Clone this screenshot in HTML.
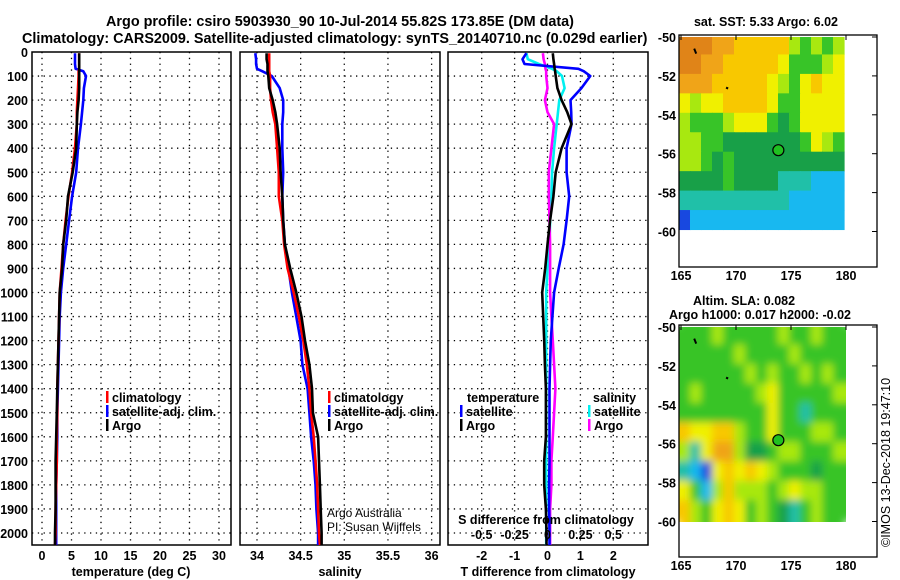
<!DOCTYPE html>
<html><head><meta charset="utf-8">
<style>
html,body{margin:0;padding:0;background:#fff;}
svg{display:block;font-family:"Liberation Sans",Arial,sans-serif;}
.t{font-size:12.5px;font-weight:bold;fill:#000;}
.ti{font-size:14.4px;font-weight:bold;fill:#000;}
</style></head><body>
<svg id="c" width="900" height="580" viewBox="0 0 900 580" xmlns="http://www.w3.org/2000/svg">
<defs>
<filter id="blur" x="-5%" y="-5%" width="110%" height="110%"><feGaussianBlur stdDeviation="4"/></filter>
<clipPath id="clipsla"><rect x="679" y="327" width="167" height="195"/></clipPath>
<clipPath id="clipsst"><rect x="679" y="37" width="167" height="195"/></clipPath>
</defs>
<text class="ti" x="340" y="26" text-anchor="middle">Argo profile: csiro 5903930_90 10-Jul-2014 55.82S 173.85E (DM data)</text>
<text class="ti" x="22" y="43">Climatology: CARS2009. Satellite-adjusted climatology: synTS_20140710.nc (0.029d earlier)</text>
<g id="g"></g>
</svg>
<script>
// ---- data ----
const depths = [5,30,50,70,80,100,150,200,250,300,400,500,600,700,800,900,1000,1100,1200,1300,1400,1500,1600,1700,1800,1900,2000,2050];
const tempClim = [6.3,6.3,6.3,6.3,6.2,6.2,6.1,6.0,5.9,5.9,5.6,5.1,4.5,4.0,3.6,3.3,3.0,2.9,2.8,2.7,2.6,2.6,2.5,2.5,2.4,2.3,2.3,2.2];
const tempSat = [5.6,5.6,5.6,5.7,7.0,7.45,7.1,7.0,6.8,6.6,6.1,5.8,5.1,4.6,4.1,3.6,3.2,3.0,2.9,2.8,2.7,2.6,2.6,2.5,2.4,2.4,2.4,2.4];
const tempArgo = [6.3,6.3,6.3,6.3,6.3,6.3,6.3,6.2,6.0,5.9,5.8,5.2,4.4,4.1,3.6,3.4,3.0,2.9,2.8,2.7,2.6,2.5,2.4,2.3,2.3,2.3,2.2,2.2];
const salClim = [34.14,34.14,34.14,34.14,34.14,34.15,34.15,34.16,34.18,34.21,34.23,34.25,34.25,34.29,34.31,34.35,34.42,34.48,34.53,34.57,34.60,34.62,34.65,34.67,34.69,34.70,34.71,34.72];
const salSat = [33.98,33.99,33.99,34.00,34.06,34.17,34.26,34.30,34.30,34.29,34.29,34.30,34.29,34.30,34.32,34.36,34.40,34.45,34.50,34.52,34.58,34.60,34.62,34.65,34.67,34.68,34.70,34.70];
const salArgo = [34.11,34.11,34.12,34.12,34.12,34.13,34.14,34.18,34.21,34.23,34.26,34.27,34.29,34.30,34.32,34.38,34.45,34.51,34.55,34.60,34.63,34.64,34.70,34.71,34.72,34.73,34.74,34.74];
const dTsat = [-0.64,-0.76,-0.7,0.94,1.1,1.3,1.03,0.7,0.72,0.73,0.58,0.58,0.66,0.58,0.49,0.34,0.2,0.15,0.1,0.08,0.06,0.06,0.06,0.06,0.05,0.05,0.06,0.06];
const dTargo = [0.16,0.18,0.2,0.22,0.23,0.25,0.3,0.43,0.6,0.73,0.43,0.25,0.18,0.08,0.0,-0.07,-0.16,-0.13,-0.1,-0.08,-0.05,-0.05,-0.05,-0.1,-0.1,-0.05,-0.03,-0.03];
const dSsat = [-0.16,-0.15,-0.065,0.035,0.07,0.11,0.13,0.09,0.08,0.07,0.05,0.035,0.03,0.02,0.015,0.0,-0.01,-0.01,-0.01,-0.01,-0.01,-0.01,-0.01,-0.01,-0.01,-0.01,-0.01,-0.01];
const dSargo = [-0.035,-0.03,-0.02,-0.015,-0.01,-0.01,0.0,-0.02,0.0,0.05,0.03,0.01,0.01,0.015,0.02,0.02,0.02,0.03,0.04,0.05,0.06,0.05,0.04,0.03,0.03,0.02,0.02,0.02];
const depthTicks = [0,100,200,300,400,500,600,700,800,900,1000,1100,1200,1300,1400,1500,1600,1700,1800,1900,2000];
const tTicks = [0,5,10,15,20,25,30];
const sTicks = [34,34.5,35,35.5,36];
const sTickLabels = ["34","34.5","35","35.5","36"];
const dtTicks = [-2,-1,0,1,2];
const dsTicks = [-0.5,-0.25,0,0.25,0.5];
const dsTickLabels = ["-0.5","-0.25","0","0.25","0.5"];
const lonTicks = [165,170,175,180];
const latTicks = [-50,-52,-54,-56,-58,-60];
const argoLon = 173.85, argoLat = -55.82;
// map grids: rows lat -50..-59 (1 deg), cols lon 165..179 (1 deg); colour index 0(blue)..9(orange)
const sstGrid = [
[9,9,9,8,8,7,7,7,7,7,5,4,5,4,5],
[9,9,8,8,7,7,7,7,7,6,4,4,4,5,6],
[8,8,8,7,7,7,7,7,6,5,4,6,7,6,6],
[6,5,6,6,7,7,7,7,6,4,4,6,6,6,6],
[5,4,4,4,5,6,6,6,4,3,4,6,6,6,6],
[5,5,4,4,3,3,3,3,3,3,3,4,6,5,4],
[5,5,4,3,4,3,3,3,3,3,3,3,3,3,3],
[3,3,3,3,4,3,3,3,3,2,2,2,1,1,1],
[2,2,2,2,2,2,2,2,2,2,1,1,1,1,1],
[0,1,1,1,1,1,1,1,1,1,1,1,1,1,1]];
const slaGrid = [
[4,4,4,5,4,4,4,4,4,5,4,4,5,4,4],
[4,4,4,4,4,5,4,4,4,4,5,4,4,4,4],
[4,4,4,4,4,4,5,4,5,4,4,5,4,5,4],
[4,5,4,4,4,4,4,5,6,4,4,4,4,4,5],
[4,4,4,4,4,4,4,4,6,4,4,2,4,4,4],
[7,6,6,7,7,5,4,4,6,4,4,4,5,5,4],
[5,2,6,8,8,5,3,3,4,5,5,4,4,4,5],
[2,1,0,6,7,6,7,6,5,4,4,4,3,4,4],
[6,4,1,5,7,5,5,5,4,5,6,5,5,4,4],
[7,5,4,6,7,6,4,5,4,3,2,4,5,4,4]];
const cmap = ["#1848e0","#18b8f0","#20c0a8","#18a048","#38c428","#a8e810","#f0f000","#f8c800","#f0a418","#e08418"];

// ---- helpers ----
const NS="http://www.w3.org/2000/svg";
const G=document.getElementById('g');
function mk(tag,attrs,parent){const e=document.createElementNS(NS,tag);for(const k in attrs)e.setAttribute(k,attrs[k]);(parent||G).appendChild(e);return e;}
function txt(x,y,s,anchor,cls,name){const e=mk('text',{x:x,y:y,'text-anchor':anchor||'start','class':cls||'t'});e.textContent=s;


return e;}
const yD = d => 52 + 0.2405*d;
const PTOP=52, PBOT=545;
const xT = v => 42 + 5.9*v;
const xS = v => 257 + 87.3*(v-34);
const xDT = v => 547.5 + 32.9*v;
const xDS = v => 547.5 + 131.6*v;

function panel(x0,x1,ticks,labels,xf,name){
  const grid=mk('g',{});
  
  
  depthTicks.forEach(d=>{ if(d>0) mk('line',{x1:x0,x2:x1,y1:yD(d),y2:yD(d),stroke:'#000','stroke-width':1.3,'stroke-dasharray':'1.3 4.5'},grid);});
  ticks.forEach((t,i)=>{mk('line',{x1:xf(t),x2:xf(t),y1:PTOP,y2:PBOT,stroke:'#000','stroke-width':1.3,'stroke-dasharray':'1.3 4.5'},grid);
    txt(xf(t),560,labels[i],'middle','t',name+'-x-tick');});
  const r=mk('rect',{x:x0,y:PTOP,width:x1-x0,height:PBOT-PTOP,fill:'none',stroke:'#000','stroke-width':1.5});
  
  
}
function series(vals,xf,color,name){
  let d='';
  vals.forEach((v,i)=>{const X=xf(v),Y=yD(depths[i]);d+=(i?'L':'M')+X.toFixed(1)+' '+Y.toFixed(1);});
  const p=mk('path',{d:d,fill:'none',stroke:color,'stroke-width':2.6,'stroke-linejoin':'round'});
  
  
}
function legend(x,y,color,label,name){
  const m=mk('rect',{x:x,y:y-11,width:2.5,height:12,fill:color});
  
  
  txt(x+6,y,label,'start','t',name);
}

// depth labels
depthTicks.forEach(d=>txt(28,yD(d)+5,String(d),'end','t','depth-tick-label'));

// panel 1 temperature
panel(32,231,tTicks,tTicks.map(String),xT,'temperature-panel');
series(tempSat,xT,'#0000ff','temp-satellite-line');
series(tempClim,xT,'#ff0000','temp-climatology-line');
series(tempArgo,xT,'#000','temp-argo-line');
txt(131,576,'temperature (deg C)','middle','t','temperature-axis-title');
legend(106,402,'#ff0000','climatology','legend-climatology');
legend(106,416,'#0000ff','satellite-adj. clim.','legend-satellite-adj');
legend(106,430,'#000','Argo','legend-argo');

// panel 2 salinity
panel(240,440,sTicks,sTickLabels,xS,'salinity-panel');
series(salSat,xS,'#0000ff','sal-satellite-line');
series(salClim,xS,'#ff0000','sal-climatology-line');
series(salArgo,xS,'#000','sal-argo-line');
txt(340,576,'salinity','middle','t','salinity-axis-title');
legend(328,402,'#ff0000','climatology','legend2-climatology');
legend(328,416,'#0000ff','satellite-adj. clim.','legend2-satellite-adj');
legend(328,430,'#000','Argo','legend2-argo');
let a=txt(327,517,'Argo Australia','start','t','credit-argo-australia'); a.setAttribute('style','font-weight:normal;font-size:12px');
a=txt(327,531,'PI: Susan Wijffels','start','t','credit-pi'); a.setAttribute('style','font-weight:normal;font-size:12px');

// panel 3 differences
panel(448,648,dtTicks,dtTicks.map(String),xDT,'difference-panel');
series(dSsat,xDS,'#00f0f0','ds-satellite-line');
series(dSargo,xDS,'#ff00ff','ds-argo-line');
series(dTsat,xDT,'#0000ff','dt-satellite-line');
series(dTargo,xDT,'#000','dt-argo-line');
txt(548,576,'T difference from climatology','middle','t','t-diff-axis-title');
txt(546,524,'S difference from climatology','middle','t','s-diff-axis-title');
dsTicks.forEach((t,i)=>txt(xDS(t),539,dsTickLabels[i],'middle','t','s-diff-tick'));
txt(467,402,'temperature','start','t','legend3-temperature-heading');
legend(460,416,'#0000ff','satellite','legend3-t-satellite');
legend(460,430,'#000','Argo','legend3-t-argo');
txt(593,402,'salinity','start','t','legend3-salinity-heading');
legend(588,416,'#00f0f0','satellite','legend3-s-satellite');
legend(588,430,'#ff00ff','Argo','legend3-s-argo');

// maps
const xL = lon => 681 + 11*(lon-165);
function map(top,gridArr,name,smooth,clipId){
  const yL = lat => top+2 + 19.45*(-50-lat);
  const outer=mk('g',{'clip-path':'url(#'+clipId+')'});
  
  
  const g=mk('g',smooth?{filter:'url(#blur)'}:{},outer);
  gridArr.forEach((row,r)=>row.forEach((v,c)=>{
    const cell=mk('rect',{x:xL(165+c)-2,y:yL(-50-r)-2,width:11.6,height:20,fill:cmap[v]},g);
    
    
  }));
  if(smooth){ // pad edges so blur doesn't fade
    gridArr.forEach((row,r)=>{mk('rect',{x:xL(165)-12,y:yL(-50-r)-2,width:10.5,height:20,fill:cmap[row[0]]},g);
      mk('rect',{x:xL(180)-2,y:yL(-50-r)-2,width:12,height:20,fill:cmap[row[row.length-1]]},g);});
    gridArr[0].forEach((v,c)=>mk('rect',{x:xL(165+c)-2,y:yL(-50)-14,width:11.6,height:12.5,fill:cmap[v]},g));
    gridArr[gridArr.length-1].forEach((v,c)=>mk('rect',{x:xL(165+c)-2,y:yL(-60)-2,width:11.6,height:12,fill:cmap[v]},g));
  }
  const f=mk('rect',{x:679,y:top,width:198,height:232,fill:'none',stroke:'#000','stroke-width':1.3});
  
  
  lonTicks.forEach(l=>{txt(xL(l),top+245,String(l),'middle','t',name+'-lon-tick');
    mk('line',{x1:xL(l),x2:xL(l),y1:top,y2:top+5,stroke:'#000'});});
  latTicks.forEach(l=>{txt(676,yL(l)+5,String(l),'end','t',name+'-lat-tick');
    mk('line',{x1:877,x2:872,y1:yL(l),y2:yL(l),stroke:'#000'});});
  const c=mk('circle',{cx:xL(argoLon),cy:yL(argoLat),r:5.5,fill:'#20c020',stroke:'#000','stroke-width':1.2});
  
  
  mk('path',{d:`M${xL(166.2)} ${yL(-50.6)}l2 5`,stroke:'#000','stroke-width':2});
  mk('path',{d:`M${xL(169.1)} ${yL(-52.6)}l2 1`,stroke:'#000','stroke-width':2});
}
txt(766,26,'sat. SST: 5.33 Argo: 6.02','middle','t','sst-map-title');
map(35,sstGrid,'sst-map',false,'clipsst');
txt(744,305,'Altim. SLA: 0.082','middle','t','sla-map-title');
txt(760,319,'Argo h1000: 0.017 h2000: -0.02','middle','t','sla-map-subtitle');
map(325,slaGrid,'sla-map',true,'clipsla');
const ts=txt(0,0,'©IMOS 13-Dec-2018 19:47:10','start','t','timestamp');
ts.setAttribute('transform','translate(890,547) rotate(-90)');
ts.setAttribute('style','font-weight:normal;font-size:12.5px');
</script>
</body></html>
